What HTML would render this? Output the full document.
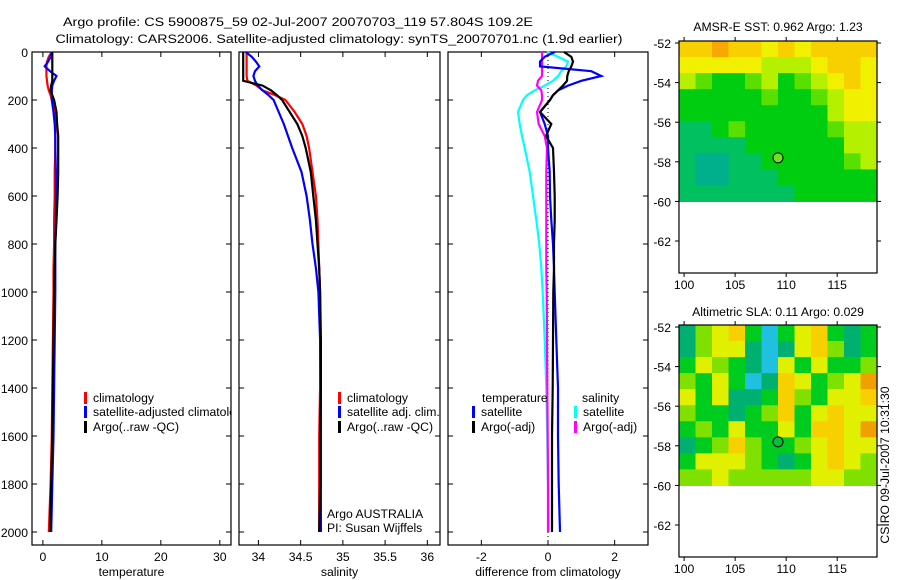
<!DOCTYPE html>
<html><head><meta charset="utf-8"><style>
html,body{margin:0;padding:0;background:#fff;}
svg{display:block;font-family:"Liberation Sans",sans-serif;}
text{font-size:12.2px;fill:#000;}
</style></head><body>
<svg id="c" width="900" height="580" viewBox="0 0 900 580" xmlns="http://www.w3.org/2000/svg">
<defs><clipPath id="cp1"><rect x="32" y="52" width="199" height="493"/></clipPath></defs>
<text x="298" y="26" text-anchor="middle" textLength="470" lengthAdjust="spacingAndGlyphs">Argo profile: CS 5900875_59 02-Jul-2007 20070703_119 57.804S 109.2E</text>
<text x="339" y="43" text-anchor="middle" textLength="567" lengthAdjust="spacingAndGlyphs">Climatology: CARS2006. Satellite-adjusted climatology: synTS_20070701.nc (1.9d earlier)</text>
<text x="778" y="31" text-anchor="middle">AMSR-E SST: 0.962 Argo: 1.23</text>
<text x="778" y="316" text-anchor="middle">Altimetric SLA: 0.11 Argo: 0.029</text>
<text transform="translate(889,465) rotate(-90)" text-anchor="middle">CSIRO 09-Jul-2007 10:31:30</text>
</svg>
<script>
// depth levels (m)
const depths=[0,20,40,60,80,100,120,140,160,180,200,250,300,350,400,500,600,700,800,900,1000,1200,1400,1600,1800,2000];
// temperature panel
const tempClim=[1.5,1.0,0.7,0.6,0.6,0.6,0.7,0.8,1.0,1.3,1.5,2.0,2.1,2.1,2.1,2.0,2.0,1.9,1.9,1.8,1.8,1.7,1.6,1.5,1.3,1.0];
const tempSat=[1.5,1.3,0.9,0.3,1.2,2.3,1.9,1.6,1.5,1.5,1.5,1.8,2.0,2.1,2.1,2.2,2.2,2.2,2.1,2.1,2.1,2.0,1.9,1.8,1.6,1.4];
const tempArgo=[1.6,1.6,1.6,1.6,1.6,1.6,1.6,1.4,1.3,1.6,1.9,2.3,2.4,2.6,2.6,2.6,2.5,2.3,2.1,2.0,1.9,1.8,1.7,1.6,1.4,1.2];
// salinity panel
const salClim=[33.86,33.86,33.86,33.86,33.86,33.86,33.87,33.98,34.05,34.20,34.32,34.43,34.52,34.57,34.60,34.64,34.68,34.70,34.71,34.72,34.73,34.73,34.73,34.72,34.72,34.72];
const salSat=[33.85,33.92,33.97,34.01,33.96,33.94,33.96,33.99,34.05,34.12,34.18,34.24,34.30,34.35,34.40,34.51,34.57,34.61,34.64,34.68,34.71,34.73,34.74,34.74,34.74,34.74];
const salArgo=[33.82,33.82,33.82,33.82,33.82,33.82,33.82,34.05,34.15,34.22,34.28,34.37,34.46,34.52,34.56,34.62,34.65,34.68,34.70,34.72,34.73,34.74,34.74,34.73,34.73,34.72];
// difference panel
const dTempSat=[0.2,-0.1,-0.24,-0.24,1.3,1.6,1.0,0.6,0.3,0.15,0.06,-0.24,-0.1,0.0,0.0,0.05,0.06,0.1,0.15,0.18,0.2,0.25,0.3,0.3,0.32,0.36];
const dTempArgo=[0.48,0.7,0.75,0.7,0.62,0.58,0.57,0.45,0.3,0.15,0.06,-0.24,0.1,-0.06,0.15,0.18,0.2,0.2,0.18,0.18,0.16,0.15,0.14,0.12,0.12,0.12];
const dSalSat=[-0.03,0.3,0.6,0.55,0.4,0.3,0.15,-0.1,-0.4,-0.63,-0.75,-0.9,-0.85,-0.78,-0.7,-0.55,-0.45,-0.35,-0.26,-0.2,-0.16,-0.1,-0.05,-0.02,0.0,0.02];
const dSalArgo=[-0.18,-0.18,-0.18,-0.18,-0.18,-0.18,-0.3,-0.33,-0.2,-0.18,-0.18,-0.33,-0.28,-0.1,-0.03,-0.05,-0.05,-0.05,-0.05,-0.05,-0.04,-0.03,-0.02,-0.01,0.0,0.0];
// axis ticks
const depthTicks=[0,200,400,600,800,1000,1200,1400,1600,1800,2000];
const tempTicks=[0,10,20,30];
const salTicks=[34,34.5,35,35.5,36];
const diffTicks=[-2,0,2];
// map grids (colour class per cell, rows north->south)
const sstGrid=[
[6,6,7,6,6,5,6,5,6,6,6,6],[5,5,5,5,5,4,4,4,5,6,6,5],[4,3,2,2,3,4,2,3,4,5,6,5],
[2,2,2,2,2,3,2,2,3,4,5,5],[2,2,2,2,2,2,2,2,2,4,5,5],[1,1,2,3,2,2,2,2,2,3,4,4],
[1,1,1,1,2,2,2,2,2,2,4,4],[1,0,0,1,1,2,2,2,2,2,3,4],[1,0,0,1,1,1,2,2,2,2,2,2],[1,1,1,1,1,1,1,2,2,2,2,2]];
const slaGrid=[
[1,3,4,5,2,0,2,4,5,2,1,2],[1,3,4,4,1,0,1,4,5,3,1,2],[2,4,3,2,1,0,4,2,4,2,2,3],
[3,2,4,2,0,1,5,4,2,3,4,6],[4,2,4,1,1,2,5,3,2,4,4,5],[3,2,2,1,2,3,5,2,4,5,4,4],
[2,3,2,4,2,2,4,2,5,5,4,6],[1,2,3,5,3,2,2,3,4,5,4,4],[2,4,4,4,3,2,1,2,4,5,4,3],[3,3,4,3,3,3,3,3,4,4,3,3]];
const latTicks=[-52,-54,-56,-58,-60,-62];
const lonTicks=[100,105,110,115];
const argoLon=109.2, argoLat=-57.8;

const NS='http://www.w3.org/2000/svg', svg=document.getElementById('c');
function mk(t,a,p){const e=document.createElementNS(NS,t);for(const k in a)e.setAttribute(k,a[k]);(p||svg).appendChild(e);return e;}
const y=d=>52+d*0.24;
const PT=545;
function panel(x0,x1,xmin,xmax,ticks,label,name,fmt){
  const sx=v=>x0+(v-xmin)/(xmax-xmin)*(x1-x0);
  const g=mk('g',{});
  
  
  const r=mk('rect',{x:x0,y:52,width:x1-x0,height:PT-52,fill:'none',stroke:'#000','stroke-width':1.2},g);
  
  
  ticks.forEach(t=>{const X=sx(t);
    mk('line',{x1:X,x2:X,y1:PT,y2:PT-5,stroke:'#000'},g);mk('line',{x1:X,x2:X,y1:52,y2:57,stroke:'#000'},g);
    const tx=mk('text',{x:X,y:PT+16,'text-anchor':'middle'},g);tx.textContent=fmt?fmt(t):t;
    
    });
  depthTicks.forEach(d=>{mk('line',{x1:x0,x2:x0+5,y1:y(d),y2:y(d),stroke:'#000'},g);mk('line',{x1:x1,x2:x1-5,y1:y(d),y2:y(d),stroke:'#000'},g);});
  const lb=mk('text',{x:(x0+x1)/2,y:576,'text-anchor':'middle'},g);lb.textContent=label;
  
  
  return {sx,g};
}
function line(P,vals,col,name,w){
  const pts=vals.map((v,i)=>P.sx(v).toFixed(1)+','+y(depths[i]).toFixed(1)).join(' ');
  const l=mk('polyline',{points:pts,fill:'none',stroke:col,'stroke-width':w||2.2},P.g);
  
  
}
function legend(g,x,yy,col,txt,name){
  if(col){mk('rect',{x:x,y:yy-10,width:3,height:12,fill:col},g);}
  const t=mk('text',{x:x+(col?9:0),y:yy},g);t.textContent=txt;
  
  
}
depthTicks.forEach(d=>{const t=mk('text',{x:28,y:y(d)+5,'text-anchor':'end'});t.textContent=d;
  
  });

const P1=panel(32,231,-1.85,31.9,tempTicks,'temperature','temperature-panel');
line(P1,tempClim,'#f00','temp-climatology-line');line(P1,tempSat,'#00f','temp-satellite-line');line(P1,tempArgo,'#000','temp-argo-line');
const L1=mk('g',{'clip-path':'url(#cp1)'},P1.g);
legend(L1,84,402,'#f00','climatology','legend-climatology');
legend(L1,84,416,'#00f','satellite-adjusted climatology','legend-satellite-adjusted');
legend(L1,84,431,'#000','Argo(..raw -QC)','legend-argo');

const P2=panel(239,440,33.77,36.15,salTicks,'salinity','salinity-panel');
line(P2,salClim,'#f00','sal-climatology-line');line(P2,salSat,'#00f','sal-satellite-line');line(P2,salArgo,'#000','sal-argo-line');
legend(P2.g,338,402,'#f00','climatology','legend-sal-climatology');
legend(P2.g,338,416,'#00f','satellite adj. clim.','legend-sal-satellite');
legend(P2.g,338,431,'#000','Argo(..raw -QC)','legend-sal-argo');
legend(P2.g,327,518,null,'Argo AUSTRALIA','argo-australia-note');
legend(P2.g,327,532,null,'PI: Susan Wijffels','pi-note');

const P3=panel(448,648,-3.0,3.0,diffTicks,'difference from climatology','difference-panel');
mk('line',{x1:P3.sx(0),x2:P3.sx(0),y1:52,y2:PT,stroke:'#000','stroke-dasharray':'1,3'},P3.g);
line(P3,dSalSat,'#0ff','diff-sal-satellite-line');line(P3,dSalArgo,'#f0f','diff-sal-argo-line');
line(P3,dTempSat,'#00f','diff-temp-satellite-line');line(P3,dTempArgo,'#000','diff-temp-argo-line');
legend(P3.g,482,402,null,'temperature','legend-temperature-head');
legend(P3.g,472,416,'#00f','satellite','legend-temp-satellite');
legend(P3.g,472,431,'#000','Argo(-adj)','legend-temp-argo');
legend(P3.g,582,402,null,'salinity','legend-salinity-head');
legend(P3.g,574,416,'#0ff','satellite','legend-sal-satellite-diff');
legend(P3.g,574,431,'#f0f','Argo(-adj)','legend-sal-argo-diff');

const sstCols=['#00b08c','#00c060','#00cc10','#5ae000','#b4f000','#f0f000','#f8d000','#f8a800'];
const slaCols=['#20c0e0','#00b070','#00cc20','#80e000','#e0f000','#f8d000','#f0a000'];
function map(top,grid,cols,name,circ){
  const x0=679,x1=877,bot=top+232;
  const sx=l=>x0+(l-99.5)/(118.9-99.5)*(x1-x0);
  const sy=la=>top+2+(-52-la)*19.8;
  const g=mk('g',{});
  
  
  const nr=grid.length,nc=grid[0].length,cw=(x1-x0)/nc,ch=(sy(-60)-top)/nr;
  grid.forEach((row,i)=>row.forEach((v,j)=>{
    const c=mk('rect',{x:x0+j*cw,y:top+i*ch,width:cw+0.6,height:ch+0.6,fill:cols[v]},g);
    
    }));
  mk('rect',{x:x0,y:top,width:x1-x0,height:bot-top,fill:'none',stroke:'#000','stroke-width':1.2},g);
  latTicks.forEach(la=>{const Y=sy(la);mk('line',{x1:x0-4,x2:x0,y1:Y,y2:Y,stroke:'#000'},g);mk('line',{x1:x1,x2:x1+4,y1:Y,y2:Y,stroke:'#000'},g);
    const t=mk('text',{x:x0-8,y:Y+5,'text-anchor':'end'},g);t.textContent=la;
    
    });
  lonTicks.forEach(lo=>{const X=sx(lo);mk('line',{x1:X,x2:X,y1:bot,y2:bot+4,stroke:'#000'},g);mk('line',{x1:X,x2:X,y1:top-4,y2:top,stroke:'#000'},g);
    const t=mk('text',{x:X,y:bot+16,'text-anchor':'middle'},g);t.textContent=lo;
    
    });
  const c=mk('circle',{cx:sx(argoLon),cy:sy(argoLat),r:5,fill:circ,stroke:'#000','stroke-width':1},g);
  
  
}
map(41,sstGrid,sstCols,'sst-map','#70e020');
map(325,slaGrid,slaCols,'sla-map','#00c040');
</script>
</body></html>
